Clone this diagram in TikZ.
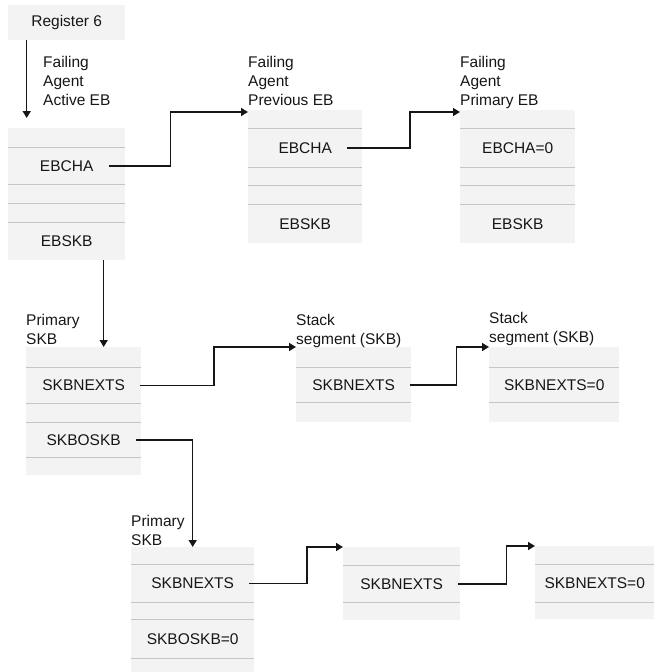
\documentclass[tikz,border=0pt]{standalone}
\usepackage{fontspec}
\setmainfont{Liberation Sans}
\usetikzlibrary{arrows.meta,positioning}
\definecolor{boxG}{HTML}{F3F3F3}
\definecolor{sepG}{HTML}{C6C6C6}
\definecolor{inkK}{HTML}{161616}

\begin{document}
\begin{tikzpicture}[x=1pt, y=-1pt,
  font=\fontsize{15.5}{19}\selectfont, text=inkK,
  >={Triangle[length=7pt,width=8pt]},
  row/.style 2 args={fill=boxG, inner sep=0pt, minimum width=#1, minimum height=#2},
  field/.style={inner xsep=15pt, inner ysep=0pt},
  tag/.style={anchor=north west, align=left, inner sep=0pt},
  sep/.style={draw=sepG, line width=1pt},
  link/.style={->, line width=1.5pt, draw=inkK}]

  \useasboundingbox (0,0) rectangle (654,672);

  % register and the three EBs
  \node[row={117pt}{35pt}, anchor=north west] (reg) at (8,5) {Register 6};

  \node[row={117pt}{19pt}, anchor=north west] (a0) at (8,128) {};
  \node[row={117pt}{37pt}, below=0pt of a0] (a1) {};
  \node[row={117pt}{18pt}, below=0pt of a1] (a2) {};
  \node[row={117pt}{19pt}, below=0pt of a2] (a3) {};
  \node[row={117pt}{37pt}, below=0pt of a3] (a4) {EBSKB};
  \node[field] (ebcha1) at (a1) {EBCHA};

  \node[row={114pt}{18pt}, anchor=north west] (p0) at (248,110) {};
  \node[row={114pt}{39pt}, below=0pt of p0] (p1) {};
  \node[row={114pt}{17pt}, below=0pt of p1] (p2) {};
  \node[row={114pt}{19pt}, below=0pt of p2] (p3) {};
  \node[row={114pt}{38pt}, below=0pt of p3] (p4) {EBSKB};
  \node[field] (ebcha2) at (p1) {EBCHA};

  \node[row={115pt}{18pt}, anchor=north west] (q0) at (460,110) {};
  \node[row={115pt}{39pt}, below=0pt of q0] (q1) {EBCHA=0};
  \node[row={115pt}{17pt}, below=0pt of q1] (q2) {};
  \node[row={115pt}{19pt}, below=0pt of q2] (q3) {};
  \node[row={115pt}{38pt}, below=0pt of q3] (q4) {EBSKB};

  \node[tag] (lact) at (43,56) {Failing\\Agent\\Active EB};
  \node[tag] (lprev) at (248,56) {Failing\\Agent\\Previous EB};
  \node[tag] (lprim) at (460,56) {Failing\\Agent\\Primary EB};

  % first SKB chain
  \node[row={115pt}{20pt}, anchor=north west] (s0) at (26,347) {};
  \node[row={115pt}{36pt}, below=0pt of s0] (s1) {};
  \node[row={115pt}{18pt}, below=0pt of s1] (s2) {};
  \node[row={115pt}{35pt}, below=0pt of s2] (s3) {};
  \node[row={115pt}{17pt}, below=0pt of s3] (s4) {};
  \node[field] (next1) at (s1) {SKBNEXTS};
  \node[field] (oskb1) at (s3) {SKBOSKB};

  \node[row={115pt}{20pt}, anchor=north west] (k0) at (296,347) {};
  \node[row={115pt}{35pt}, below=0pt of k0] (k1) {};
  \node[row={115pt}{19pt}, below=0pt of k1] (k2) {};
  \node[field] (next2) at (k1) {SKBNEXTS};

  \node[row={130pt}{20pt}, anchor=north west] (m0) at (489,347) {};
  \node[row={130pt}{35pt}, below=0pt of m0] (m1) {SKBNEXTS=0};
  \node[row={130pt}{19pt}, below=0pt of m1] (m2) {};

  \node[tag] (lskb1) at (26,314) {Primary\\SKB};
  \node[tag] (lseg1) at (296,314) {Stack\\segment (SKB)};
  \node[tag] (lseg2) at (489,312) {Stack\\segment (SKB)};

  % second SKB chain
  \node[row={123pt}{17pt}, anchor=north west] (t0) at (131,547) {};
  \node[row={123pt}{38pt}, below=0pt of t0] (t1) {};
  \node[row={123pt}{16pt}, below=0pt of t1] (t2) {};
  \node[row={123pt}{39pt}, below=0pt of t2] (t3) {SKBOSKB=0};
  \node[row={123pt}{15pt}, below=0pt of t3] (t4) {};
  \node[field] (next3) at (t1) {SKBNEXTS};

  \node[row={117pt}{18pt}, anchor=north west] (u0) at (343,547) {};
  \node[row={117pt}{37pt}, below=0pt of u0] (u1) {};
  \node[row={117pt}{17pt}, below=0pt of u1] (u2) {};
  \node[field] (next4) at (u1) {SKBNEXTS};

  \node[row={119pt}{18pt}, anchor=north west] (v0) at (535,546) {};
  \node[row={119pt}{38pt}, below=0pt of v0] (v1) {SKBNEXTS=0};
  \node[row={119pt}{16pt}, below=0pt of v1] (v2) {};

  \node[tag] (lskb2) at (131,515) {Primary\\SKB};

  \foreach \r in {a1,a2,a3,a4,p1,p2,p3,p4,q1,q2,q3,q4,s1,s2,s3,s4,k1,k2,m1,m2,t1,t2,t3,t4,u1,u2,v1,v2}
    \draw[sep] (\r.north west) -- (\r.north east);

  % pointers
  \draw[link, shorten >=10pt] ([xshift=-40pt]reg.south) -- ([xshift=-40pt]reg.south |- a0.north);
  \draw[link] (ebcha1.east) -- ++(62,0) |- ([yshift=-2pt]p0.north west);
  \draw[link] (ebcha2.east) -- ++(63,0) |- ([yshift=-2pt]q0.north west);
  \draw[link] ([xshift=37pt]a4.south) -- ([xshift=37pt]a4.south |- s0.north);
  \draw[link] (next1.east) -- ++(74,0) |- (k0.north west);
  \draw[link] (next2.east) -- ++(46,0) |- (m0.north west);
  \draw[link] (oskb1.east) -| (t0.north);
  \draw[link] (next3.east) -- ++(58,0) |- (u0.north west);
  \draw[link] (next4.east) -- ++(48,0) |- (v0.north west);
\end{tikzpicture}
\end{document}
